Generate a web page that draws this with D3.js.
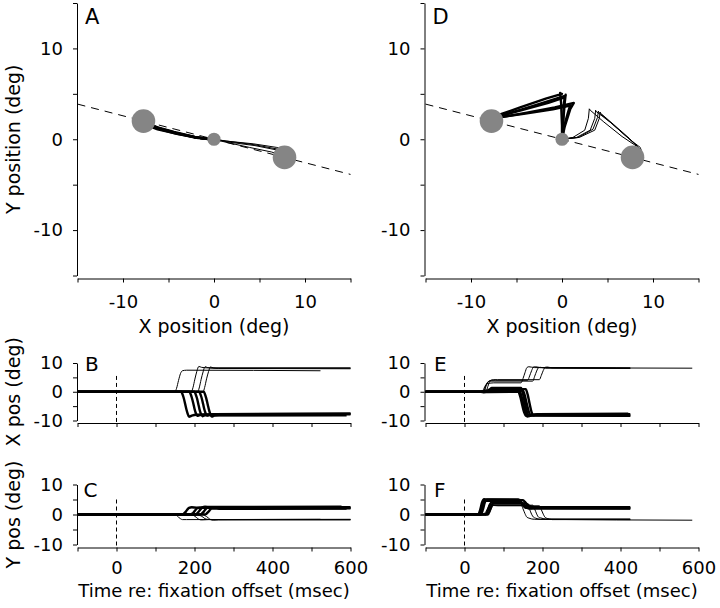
<!DOCTYPE html>
<html><head><meta charset="utf-8">
<script src="https://cdn.jsdelivr.net/npm/d3@7"></script>
<style>
body{margin:0;background:#fff;}
svg{display:block;font-family:"DejaVu Sans",sans-serif;}
</style></head><body>
<svg id="c" width="720" height="608"></svg>
<script>
// ---------- data ----------
const posTicks = [-15, -10, -5, 0, 5, 10, 15];
const posTickLabels = [-10, 0, 10];
const traceTicks = [-10, -5, 0, 5, 10];
const traceTickLabels = [-10, 0, 10];
const timeTicks = [-100, 0, 100, 200, 300, 400, 500, 600];
const timeTickLabels = [0, 200, 400, 600];
const fixation = [0, 0];
const targets = [[-7.75, 2], [7.75, -2]];
const onsetMarkTop = [5.5, 5]; // top of dashed t=0 marker (X pos, Y pos panels)

// each trial: [time (ms), x (deg), y (deg)] keypoints
// panels A-C, leftward target (thick)
const cond1Left = [
  [[-100,0,0],[166,0,0],[169,-0.8,0.05],[172,-2.0,0.2],[176,-4.2,0.7],[179,-6.0,1.2],[182,-7.4,1.7],[186,-8.7,2.2],[193,-8.3,2.4],[205,-8.0,2.3],[600,-7.8,2.4]],
  [[-100,0,0],[187,0,0],[190,-0.8,0.05],[193,-2.0,0.2],[197,-4.1,0.6],[200,-5.9,1.1],[203,-7.3,1.6],[207,-8.4,2.1],[214,-8.1,2.3],[226,-7.9,2.2],[600,-7.6,2.1]],
  [[-100,0,0],[200,0,0],[203,-0.9,0.05],[206,-2.1,0.25],[210,-4.4,0.8],[213,-6.2,1.3],[216,-7.5,1.8],[220,-8.5,2.4],[227,-8.2,2.6],[240,-8.1,2.5],[577,-8.0,2.6]],
  [[-100,0,0],[212,0,0],[215,-0.8,0.05],[218,-2.0,0.2],[222,-4.2,0.7],[225,-6.0,1.2],[228,-7.3,1.7],[232,-8.3,2.2],[239,-8.0,2.3],[252,-7.8,2.2],[600,-7.6,2.2]],
  [[-100,0,0],[224,0,0],[227,-0.9,0.05],[230,-2.2,0.2],[234,-4.5,0.7],[237,-6.2,1.1],[240,-7.5,1.6],[244,-8.6,2.0],[251,-8.3,2.0],[263,-8.2,1.9],[590,-8.2,2.0]]
];
// panels A-C, rightward target (thin)
const cond1Right = [
  [[-100,0,0],[150,0,0],[154,1.2,-0.3],[159,3.9,-0.9],[164,6.3,-1.4],[169,7.3,-1.7],[180,7.5,-1.7],[523,7.3,-1.6]],
  [[-100,0,0],[192,0,0],[196,1.4,-0.2],[201,4.4,-0.6],[206,7.1,-1.1],[211,8.8,-1.6],[218,8.5,-1.8],[235,8.3,-1.7],[600,8.3,-1.6]],
  [[-100,0,0],[208,0,0],[212,1.3,-0.2],[217,4.3,-0.5],[222,6.9,-0.9],[227,8.7,-1.4],[234,8.4,-1.6],[250,8.2,-1.7],[600,8.2,-1.7]],
  [[-100,0,0],[222,0,0],[226,1.5,-0.3],[231,4.5,-0.7],[236,7.0,-1.2],[241,8.6,-1.7],[248,8.3,-1.9],[262,8.1,-1.8],[600,8.0,-1.8]]
];
// panels D-F, leftward target (thick)
const cond2Left = [
  [[-100,0,0],[35,0,0],[40,0.0,1.5],[45,-0.1,4.0],[50,-0.2,5.1],[60,-0.1,5.0],[138,0.0,5.0],[143,-1.7,4.5],[148,-4.6,3.5],[153,-7.2,2.6],[158,-8.4,2.2],[168,-8.1,2.3],[425,-8.1,2.2]],
  [[-100,0,0],[42,0,0],[47,0.1,1.6],[52,0.3,4.0],[57,0.4,4.9],[70,0.4,4.9],[150,0.4,4.8],[155,-1.5,4.2],[160,-4.4,3.3],[165,-7.0,2.5],[170,-8.2,2.0],[180,-7.9,2.1],[425,-7.8,2.0]],
  [[-100,0,0],[55,0,0],[60,0.3,1.4],[65,0.9,3.3],[70,1.3,4.0],[85,1.3,4.0],[145,1.3,4.0],[150,-0.8,3.5],[155,-4.0,2.9],[160,-6.9,2.4],[165,-8.4,2.0],[175,-8.1,2.1],[425,-8.3,2.1]],
  [[-100,0,0],[60,0,0],[65,0.2,1.3],[70,0.7,3.1],[75,0.9,3.7],[90,0.9,3.7],[157,0.9,3.7],[162,-1.0,3.3],[167,-4.2,2.8],[172,-7.1,2.4],[177,-8.2,2.2],[187,-7.8,2.3],[420,-7.6,2.3]],
  [[-100,0,0],[38,0,0],[43,0.1,1.5],[48,0.2,3.8],[53,0.3,4.6],[65,0.3,4.6],[141,0.3,4.6],[146,-1.5,4.0],[151,-4.4,3.2],[156,-7.1,2.5],[161,-8.6,2.3],[171,-8.3,2.4],[425,-8.4,2.4]]
];
// panels D-F, rightward target (thin)
const cond2Right = [
  [[-100,0,0],[45,0,0],[50,1.2,0.2],[55,2.5,1.0],[60,2.9,2.3],[65,3.0,3.35],[75,3.1,3.2],[145,3.1,3.2],[150,4.6,1.9],[155,6.6,0.3],[160,8.4,-0.9],[165,8.7,-1.2],[180,8.4,-1.6],[425,8.3,-1.6]],
  [[-100,0,0],[50,0,0],[55,1.8,0.2],[60,3.4,1.1],[65,3.9,2.4],[70,4.0,3.1],[80,4.0,3.0],[162,4.0,3.0],[167,5.5,1.7],[172,7.3,0.1],[177,8.6,-0.9],[182,8.7,-1.2],[195,8.4,-1.6],[584,8.2,-1.9]],
  [[-100,0,0],[55,0,0],[60,1.9,0.2],[65,3.6,1.0],[70,4.1,2.3],[75,4.2,3.0],[85,4.2,2.9],[192,4.2,2.9],[197,5.7,1.6],[202,7.4,0.1],[207,8.5,-1.0],[212,8.6,-1.3],[225,8.3,-1.7],[425,8.2,-1.7]],
  [[-100,0,0],[48,0,0],[53,1.6,0.2],[58,3.1,1.0],[63,3.6,2.3],[68,3.7,3.2],[78,3.7,3.1],[175,3.7,3.1],[180,5.4,1.8],[185,7.2,0.2],[190,8.4,-0.9],[195,8.5,-1.1],[208,8.2,-1.5],[425,8.1,-1.5]]
];

// ---------- layout / style ----------
const THICK = 2.4, THIN = 1.0;
const GRAY = "#858585";
const svg = d3.select("#c");
const cols = [
  {x0: 77.5, x1: 350.5, yAxisX: 77, letters: ["A","B","C"], c: [cond1Left, cond1Right], letterX: [85, 85, 83.5]},
  {x0: 425.5, x1: 698.5, yAxisX: 424.5, letters: ["D","E","F"], c: [cond2Left, cond2Right], letterX: [432.5, 434, 434]}
];
const rows = {
  top: {y0: 275.5, y1: 3, xAxisY: 278.5},
  xp:  {y0: 420.5, y1: 363, xAxisY: 423},
  yp:  {y0: 544.5, y1: 484.5, xAxisY: 547.5}
};

function styleAxis(g, fs) {
  g.attr("font-family", "DejaVu Sans, sans-serif").attr("font-size", fs);
  g.selectAll("path,line").attr("stroke", "#000").attr("stroke-width", 1);
  g.selectAll("text").attr("fill", "#000");
}
function fmt(labels) { return d => labels.includes(d) ? String(d) : ""; }

cols.forEach((col, ci) => {
  const [leftTrials, rightTrials] = col.c;
  const all = [...leftTrials.map(t => ({t, w: THICK})), ...rightTrials.map(t => ({t, w: THIN}))];

  // ----- spatial panel -----
  const xs = d3.scaleLinear().domain([-15, 15]).range([col.x0, col.x1]);
  const ys = d3.scaleLinear().domain([-15, 15]).range([rows.top.y0, rows.top.y1]);
  const g = svg.append("g");
  const ya = g.append("g").attr("transform", `translate(${col.yAxisX},0)`)
    .call(d3.axisLeft(ys).tickValues(posTicks).tickSize(4).tickSizeOuter(0).tickPadding(10).tickFormat(fmt(posTickLabels)));
  styleAxis(ya, 18);
  const xa = g.append("g").attr("transform", `translate(0,${rows.top.xAxisY})`)
    .call(d3.axisBottom(xs).tickValues(posTicks).tickSize(4).tickSizeOuter(0).tickPadding(12.5).tickFormat(fmt(posTickLabels)));
  styleAxis(xa, 18);

  // dashed line through the two targets
  const [t1, t2] = targets;
  const slope = (t2[1] - t1[1]) / (t2[0] - t1[0]);
  const dl = xs.domain().map(x => [x, t1[1] + slope * (x - t1[0])]);
  g.append("path").attr("d", d3.line().x(d => xs(d[0])).y(d => ys(d[1]))(dl))
    .attr("fill", "none").attr("stroke", "#000").attr("stroke-width", 1).attr("stroke-dasharray", "8,6");

  const sline = d3.line().x(d => xs(d[1])).y(d => ys(d[2]));
  all.forEach(({t, w}) => {
    g.append("path").attr("d", sline(t)).attr("fill", "none")
      .attr("stroke", "#000").attr("stroke-width", w).attr("stroke-linejoin", "round").attr("stroke-linecap", "round");
  });
  targets.forEach(p => g.append("circle").attr("cx", xs(p[0])).attr("cy", ys(p[1])).attr("r", 11.8).attr("fill", GRAY));
  g.append("circle").attr("cx", xs(fixation[0])).attr("cy", ys(fixation[1])).attr("r", 6.6).attr("fill", GRAY);

  g.append("text").attr("x", (col.x0 + col.x1) / 2).attr("y", 333).attr("text-anchor", "middle")
    .attr("font-size", 19).text("X position (deg)");
  if (ci === 0) {
    g.append("text").attr("transform", `translate(20,${(rows.top.y0 + rows.top.y1) / 2}) rotate(-90)`)
      .attr("text-anchor", "middle").attr("font-size", 19).text("Y position (deg)");
  }
  g.append("text").attr("x", col.letterX[0]).attr("y", 24).attr("font-size", 21).text(col.letters[0]);

  // ----- time panels -----
  const ts = d3.scaleLinear().domain([-100, 600]).range([col.x0, col.x1]);
  ["xp", "yp"].forEach((rk, ri) => {
    const r = rows[rk];
    const vs = d3.scaleLinear().domain([-10, 10]).range([r.y0, r.y1]);
    const gg = svg.append("g");
    const a1 = gg.append("g").attr("transform", `translate(${col.yAxisX},0)`)
      .call(d3.axisLeft(vs).tickValues(traceTicks).tickSize(4).tickSizeOuter(0).tickPadding(10).tickFormat(fmt(traceTickLabels)));
    styleAxis(a1, 18);
    const a2 = gg.append("g").attr("transform", `translate(0,${r.xAxisY})`)
      .call(d3.axisBottom(ts).tickValues(timeTicks).tickSize(4).tickSizeOuter(0).tickPadding(10)
        .tickFormat(ri === 1 ? fmt(timeTickLabels) : () => ""));
    styleAxis(a2, 18);
    gg.append("line").attr("x1", ts(0)).attr("x2", ts(0)).attr("y1", vs(onsetMarkTop[ri])).attr("y2", r.xAxisY)
      .attr("stroke", "#000").attr("stroke-width", 1).attr("stroke-dasharray", "4,3");
    const tl = d3.line().x(d => ts(d[0])).y(d => vs(d[ri + 1])).curve(d3.curveMonotoneX);
    all.forEach(({t, w}) => {
      gg.append("path").attr("d", tl(t)).attr("fill", "none")
        .attr("stroke", "#000").attr("stroke-width", w).attr("stroke-linejoin", "round");
    });
    gg.append("text").attr("x", col.letterX[ri + 1]).attr("y", ri === 0 ? 371 : 496.5).attr("font-size", 20).text(col.letters[ri + 1]);
    if (ci === 0) {
      gg.append("text").attr("transform", `translate(20,${(r.y0 + r.y1) / 2}) rotate(-90)`)
        .attr("text-anchor", "middle").attr("font-size", 19).text(ri === 0 ? "X pos (deg)" : "Y pos (deg)");
    }
    if (ri === 1) {
      gg.append("text").attr("x", (col.x0 + col.x1) / 2).attr("y", 597).attr("text-anchor", "middle")
        .attr("font-size", 18).text("Time re: fixation offset (msec)");
    }
  });
});
</script>
</body></html>
